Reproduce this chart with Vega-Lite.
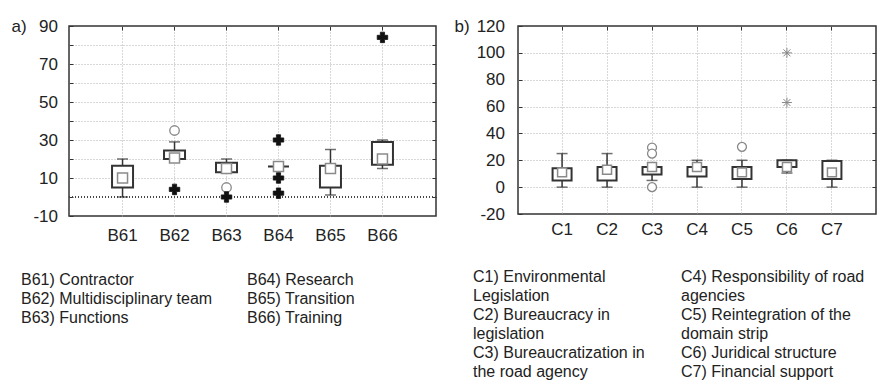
{
  "$schema": "https://vega.github.io/schema/vega-lite/v6.json",
  "background": "white",
  "padding": {"left": 10, "top": 16, "right": 0, "bottom": 0},
  "bounds": "flush",
  "columns": 2,
  "spacing": {"column": 82, "row": 69},
  "config": {
    "font": "Liberation Sans",
    "view": {"stroke": "#333", "strokeWidth": 1.5},
    "axis": {"labelFont": "Liberation Sans", "titleFont": "Liberation Sans", "labelColor": "#222", "titleColor": "#222"}
  },
  "datasets": {
    "boxA": [
      {"cat": "B61", "lo": 0, "q1": 5, "med": 10, "q3": 16.5, "hi": 20},
      {"cat": "B62", "lo": 20, "q1": 20, "med": 20.5, "q3": 24.5, "hi": 29},
      {"cat": "B63", "lo": 13, "q1": 13, "med": 15, "q3": 18, "hi": 20},
      {"cat": "B64", "lo": 16, "q1": 16, "med": 16, "q3": 16, "hi": 16},
      {"cat": "B65", "lo": 1, "q1": 5, "med": 15, "q3": 16.5, "hi": 25},
      {"cat": "B66", "lo": 15, "q1": 17, "med": 20, "q3": 29, "hi": 30}
    ],
    "outA": [
      {"cat": "B62", "v": 35, "kind": "outlier"},
      {"cat": "B62", "v": 4, "kind": "extreme"},
      {"cat": "B63", "v": 5, "kind": "outlier"},
      {"cat": "B63", "v": 0, "kind": "extreme"},
      {"cat": "B64", "v": 30, "kind": "extreme"},
      {"cat": "B64", "v": 10, "kind": "extreme"},
      {"cat": "B64", "v": 2, "kind": "extreme"},
      {"cat": "B66", "v": 84, "kind": "extreme"}
    ],
    "boxB": [
      {"cat": "C1", "lo": 0, "q1": 5, "med": 11, "q3": 14, "hi": 25},
      {"cat": "C2", "lo": 0, "q1": 5, "med": 13, "q3": 15, "hi": 25},
      {"cat": "C3", "lo": 5, "q1": 9.5, "med": 15, "q3": 15, "hi": 15},
      {"cat": "C4", "lo": 0, "q1": 8, "med": 15, "q3": 15, "hi": 20},
      {"cat": "C5", "lo": 0, "q1": 6, "med": 11, "q3": 15, "hi": 20},
      {"cat": "C6", "lo": 10.5, "q1": 15, "med": 15, "q3": 20, "hi": 20},
      {"cat": "C7", "lo": 0, "q1": 6, "med": 11, "q3": 19.5, "hi": 20}
    ],
    "outB": [
      {"cat": "C3", "v": 29.5, "kind": "outlier"},
      {"cat": "C3", "v": 25, "kind": "outlier"},
      {"cat": "C3", "v": 0, "kind": "outlier"},
      {"cat": "C5", "v": 30, "kind": "outlier"},
      {"cat": "C6", "v": 100, "kind": "extreme"},
      {"cat": "C6", "v": 63, "kind": "extreme"}
    ],
    "legA": [
      {"col": 1, "line": 1, "text": "B61) Contractor"},
      {"col": 1, "line": 2, "text": "B62) Multidisciplinary team"},
      {"col": 1, "line": 3, "text": "B63) Functions"},
      {"col": 2, "line": 1, "text": "B64) Research"},
      {"col": 2, "line": 2, "text": "B65) Transition"},
      {"col": 2, "line": 3, "text": "B66) Training"}
    ],
    "legB": [
      {"col": 1, "line": 1, "text": "C1) Environmental"},
      {"col": 1, "line": 2, "text": "Legislation"},
      {"col": 1, "line": 3, "text": "C2) Bureaucracy in"},
      {"col": 1, "line": 4, "text": "legislation"},
      {"col": 1, "line": 5, "text": "C3) Bureaucratization in"},
      {"col": 1, "line": 6, "text": "the road agency"},
      {"col": 2, "line": 1, "text": "C4) Responsibility of road"},
      {"col": 2, "line": 2, "text": "agencies"},
      {"col": 2, "line": 3, "text": "C5) Reintegration of the"},
      {"col": 2, "line": 4, "text": "domain strip"},
      {"col": 2, "line": 5, "text": "C6) Juridical structure"},
      {"col": 2, "line": 6, "text": "C7) Financial support"}
    ]
  },
  "concat": [
    {
      "width": 367,
      "height": 190,
      "resolve": {"axis": {"x": "independent", "y": "independent"}},
      "layer": [
        {
          "data": {"name": "boxA"},
          "mark": {"type": "rule", "color": "#444", "strokeWidth": 1, "strokeDash": [1, 2]},
          "encoding": {
            "y": {"datum": 0, "type": "quantitative", "scale": {"domain": [-10, 90], "nice": false, "zero": false}, "axis": null}
          }
        },
        {
          "data": {"name": "boxA"},
          "mark": {"type": "rule", "color": "#333", "strokeWidth": 1.5},
          "encoding": {
            "x": {"field": "cat", "type": "nominal", "scale": {"paddingInner": 0, "paddingOuter": 0.53},
              "axis": {"grid": true, "gridDash": [1, 2], "gridColor": "#b0b0b0", "domain": false, "ticks": false, "labelPadding": 11.5, "labelFontSize": 17, "labelAngle": 0, "title": null, "zindex": 0}},
            "y": {"field": "lo", "type": "quantitative", "scale": {"domain": [-10, 90], "nice": false, "zero": false},
              "axis": {"values": [-10, 0, 10, 20, 30, 40, 50, 60, 70, 80, 90],
                "labelExpr": "(datum.value + 10) % 20 == 0 ? (datum.value < 0 ? '-' + abs(datum.value) : datum.label) : ''",
                "grid": true, "gridDash": [1, 2], "gridColor": "#b0b0b0",
                "gridOpacity": {"condition": {"test": "datum.value == -10 || datum.value == 90 || datum.value == 0", "value": 0}, "value": 1},
                "domain": false, "ticks": true, "tickSize": -4, "tickColor": "#333", "labelPadding": 15.5, "labelFontSize": 17,
                "title": "a)", "titleAngle": 0, "titleX": -58, "titleY": 5, "titleAlign": "left", "titleBaseline": "alphabetic",
                "titleFontSize": 17, "titleFontWeight": "normal", "zindex": 0}},
            "y2": {"field": "hi"}
          }
        },
        {
          "data": {"name": "boxA"},
          "mark": {"type": "tick", "color": "#333", "size": 11, "thickness": 1.5},
          "encoding": {
            "x": {"field": "cat", "type": "nominal", "axis": null},
            "y": {"field": "lo", "type": "quantitative", "axis": null}
          }
        },
        {
          "data": {"name": "boxA"},
          "mark": {"type": "tick", "color": "#333", "size": 11, "thickness": 1.5},
          "encoding": {
            "x": {"field": "cat", "type": "nominal",
              "axis": {"orient": "top", "offset": -4, "labels": false, "domain": false, "grid": false, "ticks": true, "tickSize": 4, "tickColor": "#333", "title": null}},
            "y": {"field": "hi", "type": "quantitative",
              "axis": {"orient": "right", "offset": -4, "values": [0, 10, 20, 30, 40, 50, 60, 70, 80], "labels": false, "domain": false, "grid": false, "ticks": true, "tickSize": 4, "tickColor": "#333", "title": null}}
          }
        },
        {
          "data": {"name": "boxA"},
          "mark": {"type": "bar", "fill": "white", "stroke": "#333", "strokeWidth": 2, "size": 21},
          "encoding": {
            "x": {"field": "cat", "type": "nominal", "axis": null},
            "y": {"field": "q1", "type": "quantitative", "axis": null},
            "y2": {"field": "q3"}
          }
        },
        {
          "data": {"name": "boxA"},
          "mark": {"type": "point", "shape": "square", "size": 100, "filled": true, "fill": "white", "stroke": "#8a8a8a", "strokeWidth": 1.5, "opacity": 1},
          "encoding": {
            "x": {"field": "cat", "type": "nominal", "axis": null},
            "y": {"field": "med", "type": "quantitative", "axis": null}
          }
        },
        {
          "data": {"name": "outA"},
          "transform": [{"filter": "datum.kind == 'outlier'"}],
          "mark": {"type": "point", "shape": "circle", "size": 90, "filled": true, "fill": "white", "stroke": "#888", "strokeWidth": 1.3, "opacity": 1},
          "encoding": {
            "x": {"field": "cat", "type": "nominal", "axis": null},
            "y": {"field": "v", "type": "quantitative", "axis": null}
          }
        },
        {
          "data": {"name": "outA"},
          "transform": [{"filter": "datum.kind == 'extreme'"}],
          "mark": {"type": "point", "shape": "cross", "size": 110, "filled": true, "fill": "#111", "stroke": "#111", "strokeWidth": 0.8, "opacity": 1},
          "encoding": {
            "x": {"field": "cat", "type": "nominal", "axis": null},
            "y": {"field": "v", "type": "quantitative", "axis": null}
          }
        }
      ]
    },
    {
      "width": 358,
      "height": 188,
      "resolve": {"axis": {"x": "independent", "y": "independent"}},
      "layer": [
        {
          "data": {"name": "boxB"},
          "mark": {"type": "rule", "color": "#333", "strokeWidth": 1.5},
          "encoding": {
            "x": {"field": "cat", "type": "nominal", "scale": {"paddingInner": 0, "paddingOuter": 0.48},
              "axis": {"grid": true, "gridDash": [1, 2], "gridColor": "#b0b0b0", "domain": false, "ticks": false, "labelPadding": 7, "labelFontSize": 17, "labelAngle": 0, "title": null, "zindex": 0}},
            "y": {"field": "lo", "type": "quantitative", "scale": {"domain": [-20, 120], "nice": false, "zero": false},
              "axis": {"values": [-20, 0, 20, 40, 60, 80, 100, 120],
                "labelExpr": "datum.value < 0 ? '-' + abs(datum.value) : datum.label",
                "grid": true, "gridDash": [1, 2], "gridColor": "#b0b0b0",
                "gridOpacity": {"condition": {"test": "datum.value == -20 || datum.value == 120", "value": 0}, "value": 1},
                "domain": false, "ticks": true, "tickSize": -4, "tickColor": "#333", "labelPadding": 17.5, "labelFontSize": 17,
                "title": "b)", "titleAngle": 0, "titleX": -64, "titleY": 5, "titleAlign": "left", "titleBaseline": "alphabetic",
                "titleFontSize": 17, "titleFontWeight": "normal", "zindex": 0}},
            "y2": {"field": "hi"}
          }
        },
        {
          "data": {"name": "boxB"},
          "mark": {"type": "tick", "color": "#333", "size": 11, "thickness": 1.5},
          "encoding": {
            "x": {"field": "cat", "type": "nominal", "axis": null},
            "y": {"field": "lo", "type": "quantitative", "axis": null}
          }
        },
        {
          "data": {"name": "boxB"},
          "mark": {"type": "tick", "color": "#333", "size": 11, "thickness": 1.5},
          "encoding": {
            "x": {"field": "cat", "type": "nominal",
              "axis": {"orient": "top", "offset": -4, "labels": false, "domain": false, "grid": false, "ticks": true, "tickSize": 4, "tickColor": "#333", "title": null}},
            "y": {"field": "hi", "type": "quantitative",
              "axis": {"orient": "right", "offset": -4, "values": [0, 20, 40, 60, 80, 100], "labels": false, "domain": false, "grid": false, "ticks": true, "tickSize": 4, "tickColor": "#333", "title": null}}
          }
        },
        {
          "data": {"name": "boxB"},
          "mark": {"type": "bar", "fill": "white", "stroke": "#333", "strokeWidth": 2, "size": 19},
          "encoding": {
            "x": {"field": "cat", "type": "nominal", "axis": null},
            "y": {"field": "q1", "type": "quantitative", "axis": null},
            "y2": {"field": "q3"}
          }
        },
        {
          "data": {"name": "boxB"},
          "mark": {"type": "point", "shape": "square", "size": 80, "filled": true, "fill": "white", "stroke": "#8a8a8a", "strokeWidth": 1.5, "opacity": 1},
          "encoding": {
            "x": {"field": "cat", "type": "nominal", "axis": null},
            "y": {"field": "med", "type": "quantitative", "axis": null}
          }
        },
        {
          "data": {"name": "outB"},
          "transform": [{"filter": "datum.kind == 'outlier'"}],
          "mark": {"type": "point", "shape": "circle", "size": 80, "filled": true, "fill": "white", "stroke": "#888", "strokeWidth": 1.3, "opacity": 1},
          "encoding": {
            "x": {"field": "cat", "type": "nominal", "axis": null},
            "y": {"field": "v", "type": "quantitative", "axis": null}
          }
        },
        {
          "data": {"name": "outB"},
          "transform": [{"filter": "datum.kind == 'extreme'"}],
          "mark": {"type": "point", "shape": "M-1,0L1,0M0,-1L0,1M-0.7,-0.7L0.7,0.7M-0.7,0.7L0.7,-0.7", "size": 100, "filled": false, "stroke": "#888", "strokeWidth": 1, "opacity": 1},
          "encoding": {
            "x": {"field": "cat", "type": "nominal", "axis": null},
            "y": {"field": "v", "type": "quantitative", "axis": null}
          }
        }
      ]
    },
    {
      "width": 226,
      "height": 38,
      "view": {"stroke": null},
      "data": {"name": "legA"},
      "mark": {"type": "text", "align": "left", "baseline": "alphabetic", "dx": -48, "fontSize": 16, "color": "#222", "font": "Liberation Sans"},
      "encoding": {
        "x": {"field": "col", "type": "ordinal", "scale": {"type": "point", "padding": 0}, "axis": null},
        "y": {"field": "line", "type": "ordinal", "scale": {"type": "point", "padding": 0}, "axis": null},
        "text": {"field": "text"}
      }
    },
    {
      "width": 208,
      "height": 95,
      "view": {"stroke": null},
      "data": {"name": "legB"},
      "mark": {"type": "text", "align": "left", "baseline": "alphabetic", "dx": -45, "dy": -3, "fontSize": 16, "color": "#222", "font": "Liberation Sans"},
      "encoding": {
        "x": {"field": "col", "type": "ordinal", "scale": {"type": "point", "padding": 0}, "axis": null},
        "y": {"field": "line", "type": "ordinal", "scale": {"type": "point", "padding": 0}, "axis": null},
        "text": {"field": "text"}
      }
    }
  ]
}
